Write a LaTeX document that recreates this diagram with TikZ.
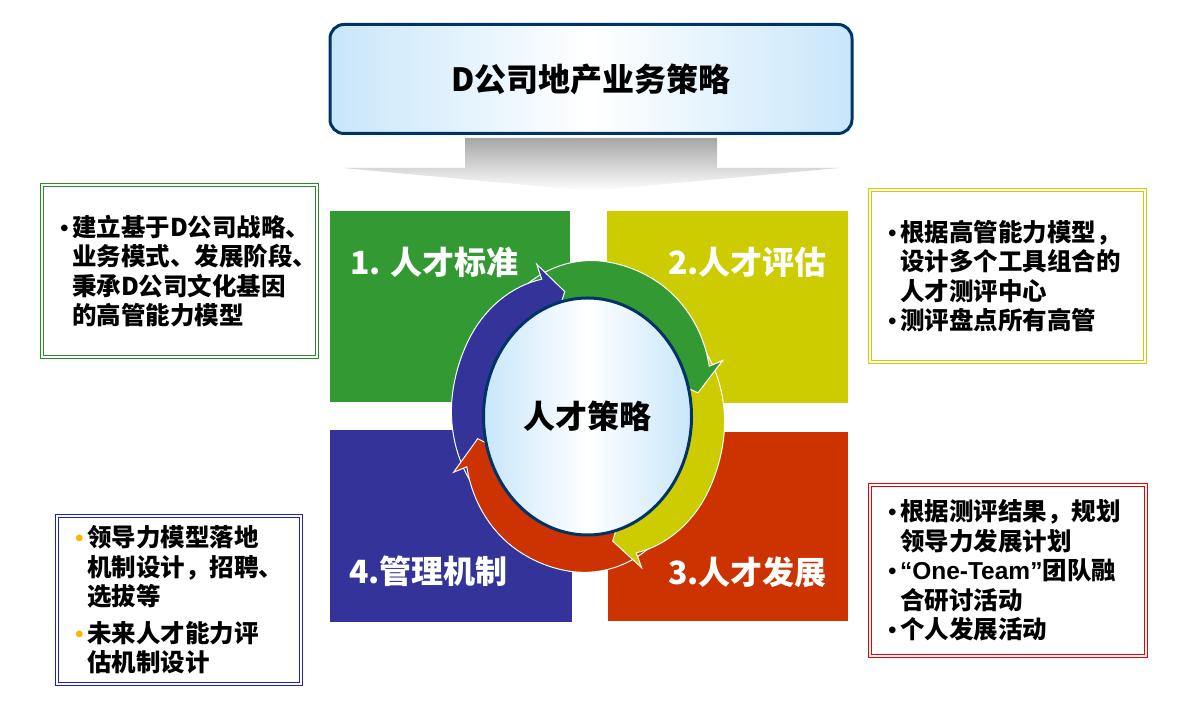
\documentclass[tikz,border=0pt]{standalone}
\usepackage{fontspec}
\setmainfont{Noto Sans CJK SC}
\newfontfamily\latinfont{Liberation Sans}
\usepackage{xcolor}
\usepackage{tikz}
\usetikzlibrary{shapes.geometric,shadings}

\definecolor{stdgreen}{RGB}{51,153,51}
\definecolor{evalyellow}{RGB}{204,204,0}
\definecolor{devred}{RGB}{204,51,0}
\definecolor{mgmtblue}{RGB}{51,51,153}
\definecolor{navy}{RGB}{0,51,102}
\definecolor{paleblue}{RGB}{200,230,250}
\definecolor{boxgreen}{RGB}{40,140,40}
\definecolor{boxyellow}{RGB}{204,204,0}
\definecolor{boxblue}{RGB}{30,30,200}
\definecolor{boxred}{RGB}{240,0,0}
\definecolor{gold}{RGB}{255,180,0}

\newcommand{\sbul}[1][black]{\makebox[12pt][l]{\textcolor{#1}{\latinfont\mdseries •}}}
\newcommand{\sind}{\hspace*{12pt}}
% outer radius of a ring arrow: narrower near tail (#1) and head base (#2)
\newcommand{\ringr}[2]{137-8*pow(max(0,1-(\x-(#2))/40),2)-8*pow(max(0,1-((#1)-\x)/40),2)}
% color, tail angle, head base angle, tip angle
\newcommand{\cyclearrow}[4]{%
  \filldraw[ringedge, fill=#1] plot[domain=#2:#3, samples=40] (\x:{\ringr{#2}{#3}})
    -- (#3:143) -- (#4:112) -- (#3:90) arc[start angle=#3, end angle=#2, radius=90] -- cycle;}

\begin{document}
\begin{tikzpicture}[
    x=1pt, y=1pt,
    tile/.style={inner sep=0pt, outer sep=0pt},
    tilelabel/.style={font=\bfseries\fontsize{32}{36}\selectfont, text=white, anchor=west, inner sep=0pt},
    sidebox/.style={double=white, double distance=1.8pt, line width=1.3pt, fill=white, inner xsep=18pt, align=left, font=\bfseries\fontsize{24.5}{29.5}\selectfont},
    ringedge/.style={draw=white, line width=1pt},
    softfill/.style={left color=paleblue, right color=paleblue, middle color=white}
]
\useasboundingbox (0,0) rectangle (1178,703);

% TOP: strategy box and down arrow
\node[tile, softfill, draw=navy, line width=3pt, rounded corners=14pt, minimum width=522pt, minimum height=109pt,
      font=\bfseries\fontsize{32}{36}\selectfont] (strategy) at (591,624) {D公司地产业务策略};
\shade[top color=gray!70, bottom color=white] (465,565) -- (717,565) -- (717,535) -- (839,535)
    -- (590,512) -- (343,535) -- (465,535) -- cycle;

% FOUR TILES
\node[tile, fill=stdgreen, minimum width=240pt, minimum height=191pt] (std) at (450,396.5) {};
\node[tile, fill=evalyellow, minimum width=241pt, minimum height=192pt] (eval) at (727.5,396) {};
\node[tile, fill=mgmtblue, minimum width=242pt, minimum height=192pt] (mgmt) at (451,177) {};
\node[tile, fill=devred, minimum width=240pt, minimum height=189pt] (dev) at (728,176.5) {};
\node[tilelabel] (stdlabel) at (350,441) {1. 人才标准};
\node[tilelabel] (evallabel) at (668,441) {2.人才评估};
\node[tilelabel] (devlabel) at (668,131) {3.人才发展};
\node[tilelabel] (mgmtlabel) at (349,132) {4.管理机制};

% RING OF ARROWS
\begin{scope}[shift={(588,286.5)}, yscale=1.14]
    \cyclearrow{stdgreen}{123}{20}{10.7}
    \cyclearrow{mgmtblue}{210}{111}{102}
    \cyclearrow{devred}{-58}{-160}{-170}
    \cyclearrow{evalyellow}{30}{-68}{-77.3}
    % green head again, over the yellow tail
    \fill[stdgreen] plot[domain=42:20, samples=20] (\x:{\ringr{123}{20}})
        -- (20:143) -- (10.7:112) -- (20:90) arc[start angle=20, end angle=42, radius=90] -- cycle;
    \draw[ringedge] plot[domain=42:20, samples=20] (\x:{\ringr{123}{20}})
        -- (20:143) -- (10.7:112) -- (20:90);
\end{scope}
\node[ellipse, softfill, draw=navy, line width=3pt, minimum width=208pt, minimum height=237pt, inner sep=0pt,
      font=\bfseries\fontsize{32}{36}\selectfont] (core) at (587.5,286.5) {人才策略};

% SIDE NOTES
\node[sidebox, draw=boxgreen, text width=239pt, minimum height=172pt] (stdnote) at (179.5,432)
    {\sbul 建立基于D公司战略、\\ \sind 业务模式、发展阶段、\\ \sind 秉承D公司文化基因\\ \sind 的高管能力模型};
\node[sidebox, draw=boxyellow, text width=239pt, minimum height=172pt] (evalnote) at (1007.5,427)
    {\sbul 根据高管能力模型，\\ \sind 设计多个工具组合的\\ \sind 人才测评中心\\ \sbul 测评盘点所有高管};
\node[sidebox, draw=boxblue, text width=208pt, minimum height=168pt] (mgmtnote) at (179,103)
    {\sbul[gold]领导力模型落地\\ \sind 机制设计，招聘、\\ \sind 选拔等\\[7pt] \sbul[gold]未来人才能力评\\ \sind 估机制设计};
\node[sidebox, draw=boxred, text width=240pt, minimum height=171pt] (devnote) at (1008,132.5)
    {\sbul 根据测评结果，规划\\ \sind 领导力发展计划\\ \mbox{\sbul{\latinfont “One-Team”}团队融}\\ \sind 合研讨活动\\ \sbul 个人发展活动};
\end{tikzpicture}
\end{document}
